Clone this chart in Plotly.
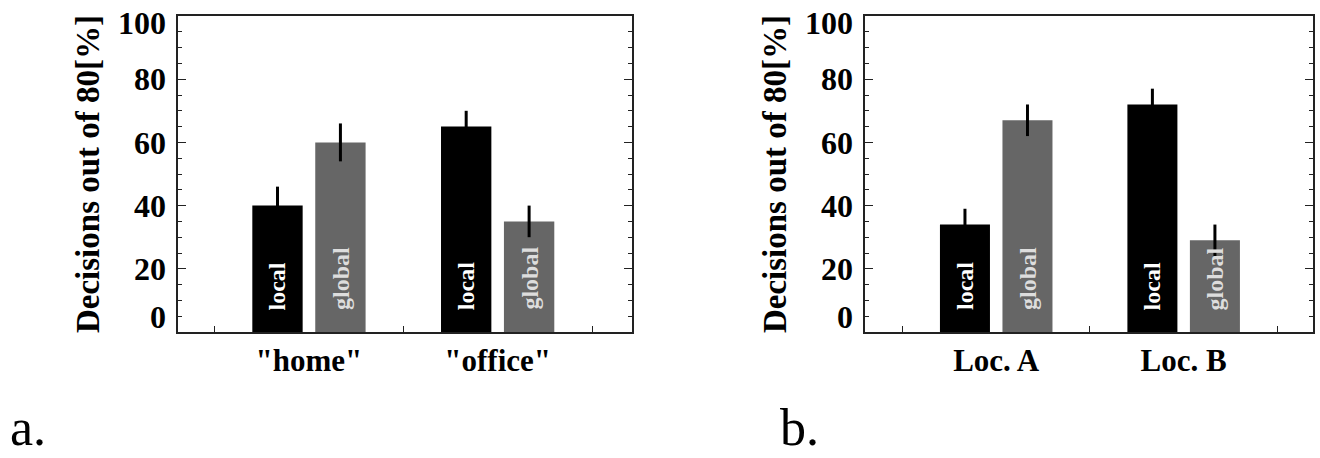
import plotly.graph_objects as go

# ---- data ----
cats_a = ['"home"', '"office"']
local_a = [40, 65]
local_a_err = [6, 5]
global_a = [60, 35]
global_a_err = [6, 5]

cats_b = ["Loc. A", "Loc. B"]
local_b = [34, 72]
local_b_err = [5, 5]
global_b = [67, 29]
global_b_err = [5, 5]

series_names = ["local", "global"]
y_label = "Decisions out of 80[%]"
ytick_vals = [0, 20, 40, 60, 80, 100]
# label positions (the original prints "0" and "100" slightly inside the frame)
ytick_label_pos = [4.8, 20, 40, 60, 80, 97.8]
panel_letters = ["a.", "b."]

SERIF = "Liberation Serif"
LOCAL_C = "#000000"
GLOBAL_C = "#666666"

fig = go.Figure()

panels = [
    dict(cats=cats_a, loc=local_a, loce=local_a_err, glo=global_a, gloe=global_a_err,
         x="x", y="y", ylab="y3"),
    dict(cats=cats_b, loc=local_b, loce=local_b_err, glo=global_b, gloe=global_b_err,
         x="x2", y="y2", ylab="y4"),
]

for p in panels:
    for name, vals, errs, col in [(series_names[0], p["loc"], p["loce"], LOCAL_C),
                                  (series_names[1], p["glo"], p["gloe"], GLOBAL_C)]:
        fig.add_trace(go.Bar(
            x=p["cats"], y=vals, name=name, marker=dict(color=col, line=dict(width=0)),
            error_y=dict(type="data", array=errs, visible=True, color="black",
                         thickness=3, width=0),
            xaxis=p["x"], yaxis=p["y"], showlegend=False, hoverinfo="skip",
        ))
    # invisible trace so the label-only axis is drawn
    fig.add_trace(go.Scatter(x=p["cats"], y=[0, 0], mode="markers",
                             marker=dict(opacity=0), xaxis=p["x"], yaxis=p["ylab"],
                             showlegend=False, hoverinfo="skip"))

ydom = [(458 - 332) / 458, (458 - 16) / 458]
xdom_a = [178 / 1320, 632 / 1320]
xdom_b = [865 / 1320, 1313 / 1320]

common_x = dict(
    type="category", showline=True, linecolor="#222", linewidth=1.5, mirror=True,
    ticks="inside", tickson="boundaries", ticklen=6, tickcolor="#222", tickwidth=1.2,
    showgrid=False, zeroline=False, automargin=False,
    tickfont=dict(family=SERIF, size=31, color="black", weight="bold"),
    ticklabelstandoff=0,
)
common_y = dict(
    range=[0, 100], showline=True, linecolor="#222", linewidth=1.5, mirror="ticks",
    ticks="inside", tickvals=ytick_vals, ticklen=8, tickcolor="#222", tickwidth=1.2,
    minor=dict(dtick=5, ticks="inside", ticklen=4, tickcolor="#222", tickwidth=1),
    showticklabels=False, showgrid=False, zeroline=False, domain=ydom, automargin=False,
)
lab_y = dict(
    range=[0, 100], showline=False, ticks="", tickvals=ytick_label_pos,
    ticktext=[str(v) for v in ytick_vals], showgrid=False, zeroline=False,
    tickfont=dict(family=SERIF, size=32, color="black", weight="bold"),
    ticklabelstandoff=11, automargin=False,
    title=dict(text=y_label, font=dict(family=SERIF, size=33, color="black", weight="bold"),
               standoff=8),
    side="left",
)

fig.update_layout(
    width=1320, height=458, margin=dict(l=0, r=0, t=0, b=0, pad=0, autoexpand=False),
    paper_bgcolor="white", plot_bgcolor="white",
    barmode="group", bargap=0.333, bargroupgap=0.2,
    xaxis=dict(common_x, domain=xdom_a, range=[-0.694, 1.712], anchor="y"),
    xaxis2=dict(common_x, domain=xdom_b, range=[-0.70, 1.69], anchor="y2"),
    yaxis=dict(common_y, anchor="x"),
    yaxis2=dict(common_y, anchor="x2"),
    yaxis3=dict(lab_y, overlaying="y", anchor="x"),
    yaxis4=dict(lab_y, overlaying="y2", anchor="x2"),
)

# in-bar labels
offset = (1 - 0.333) / 4
annots = []
for p, xr in [(panels[0], "x"), (panels[1], "x2")]:
    for i in range(len(p["cats"])):
        for name, dx, col in [(series_names[0], -offset, "white"),
                              (series_names[1], offset, "#dddddd")]:
            annots.append(dict(
                x=i + dx, y=0, xref=xr, yref=p["y"], text=name, showarrow=False,
                textangle=-90, xanchor="center", yanchor="bottom", yshift=20,
                font=dict(family=SERIF, size=24, color=col, weight="bold"),
            ))
for letter, px in zip(panel_letters, [8, 778]):
    annots.append(dict(
        x=px / 1320, y=0, xref="paper", yref="paper", text=letter,
        showarrow=False, xanchor="left", yanchor="bottom",
        font=dict(family=SERIF, size=52, color="black"),
    ))
fig.update_layout(annotations=annots)

fig.write_html(
    "out.html",
    config={"displayModeBar": False},
    post_script="document.body.style.margin='0';document.body.style.padding='0';",
)
